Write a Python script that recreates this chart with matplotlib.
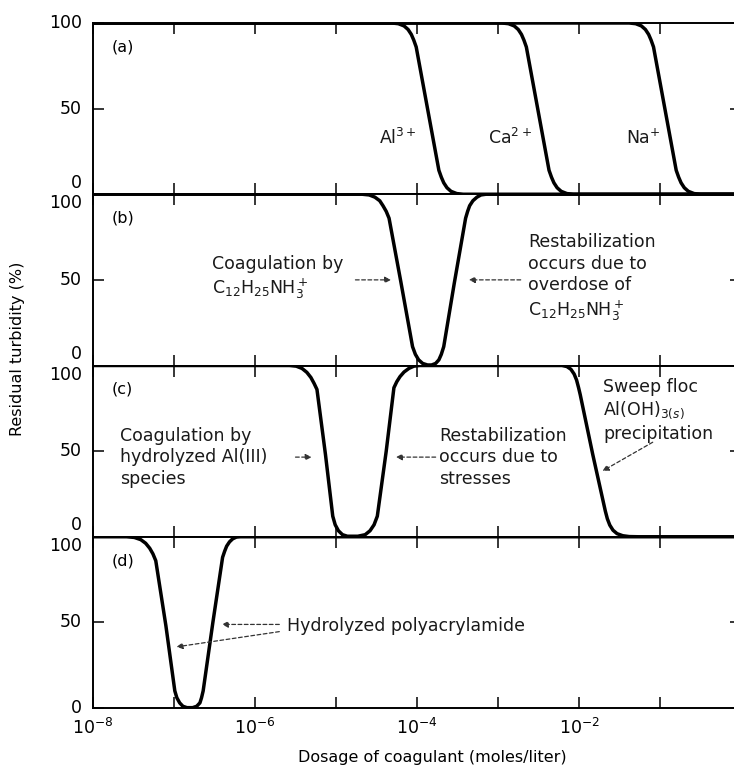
import numpy as np
import matplotlib
matplotlib.use("Agg")
import matplotlib.pyplot as plt

plt.rcParams['font.family'] = ['DejaVu Sans']
plt.rcParams['mathtext.fontset'] = 'dejavusans'

# x values are log10 of dosage (moles/liter), y is residual turbidity (%)
# (a) simple counter-ions
al_logx = [-8, -4.31, -4.23, -4.16, -4.11, -4.07, -4.04, -4.01, -3.87,
           -3.73, -3.70, -3.67, -3.63, -3.58, -3.51, -3.43, 0]
al_y = [100, 100, 99.6, 98.3, 96.2, 93.3, 90, 86, 50,
        14, 10, 6.7, 3.8, 1.7, 0.4, 0, 0]
ca_logx = [-8, -2.95, -2.87, -2.80, -2.75, -2.71, -2.68, -2.65, -2.51,
           -2.37, -2.34, -2.31, -2.27, -2.22, -2.15, -2.07, 0]
ca_y = [100, 100, 99.6, 98.3, 96.2, 93.3, 90, 86, 50,
        14, 10, 6.7, 3.8, 1.7, 0.4, 0, 0]
na_logx = [-8, -1.38, -1.30, -1.23, -1.18, -1.14, -1.11, -1.08, -0.94,
           -0.80, -0.77, -0.74, -0.70, -0.65, -0.58, -0.50, 0]
na_y = [100, 100, 99.6, 98.3, 96.2, 93.3, 90, 86, 50,
        14, 10, 6.7, 3.8, 1.7, 0.4, 0, 0]

# (b) C12H25NH3+
b_logx = [-8, -4.675, -4.59, -4.52, -4.46, -4.42, -4.38, -4.345, -4.20,
          -4.055, -4.02, -3.98, -3.93, -3.87, -3.82, -3.77, -3.73, -3.70, -3.67,
          -3.54, -3.40, -3.375, -3.35, -3.31, -3.26, -3.21, -3.15, 0]
b_y = [100, 100, 99.6, 98.3, 96.2, 93.3, 90, 86, 49,
       11, 6.5, 3.3, 1.2, 0.3, 0.3, 1.2, 3.3, 6.5, 11,
       48, 86, 90, 93.3, 96.2, 98.3, 99.6, 100, 100]

# (c) hydrolyzed Al(III)
c_logx = [-8, -5.574, -5.49, -5.42, -5.36, -5.31, -5.27, -5.235, -5.13,
          -5.04, -5.01, -4.97, -4.92, -4.86, -4.73, -4.64, -4.58, -4.53, -4.49,
          -4.38, -4.285, -4.25, -4.21, -4.16, -4.10, -4.04, -3.97,
          -2.21, -2.15, -2.10, -2.06, -2.03, -2.005, -1.985, -1.83,
          -1.675, -1.65, -1.62, -1.58, -1.53, -1.46, -1.38, -1.27, 0]
c_y = [100, 100, 99.6, 98.3, 96, 93, 89.5, 86, 48,
       12, 7, 3.5, 1.2, 0.3, 0.3, 1.2, 3.5, 7, 12,
       50, 87, 90.5, 93.5, 96.2, 98.3, 99.6, 100,
       100, 99.4, 97.8, 95, 91.5, 87, 83, 48,
       15, 10.5, 6.8, 3.8, 1.8, 0.6, 0.1, 0, 0]

# (d) hydrolyzed polyacrylamide
d_logx = [-8, -7.585, -7.49, -7.41, -7.35, -7.30, -7.26, -7.225, -7.10,
          -6.99, -6.965, -6.93, -6.89, -6.84, -6.77, -6.72, -6.68, -6.66, -6.64,
          -6.52, -6.40, -6.375, -6.35, -6.315, -6.275, -6.23, -6.18, 0]
d_y = [100, 100, 99.6, 98.3, 96.2, 93.3, 90, 86, 48,
       10, 6, 3, 1, 0.2, 0.2, 1, 3, 6, 10,
       50, 88, 91.5, 94.5, 97, 98.8, 99.8, 100, 100]

tick_exp = [-8, -7, -6, -5, -4, -3, -2, -1]
tick_labels = ['$10^{-8}$', '', '$10^{-6}$', '', '$10^{-4}$', '', '$10^{-2}$', '']
panel_names = ['(a)', '(b)', '(c)', '(d)']


def X(v):
    return 10.0 ** np.asarray(v, dtype=float)


W, H = 734, 767
fig = plt.figure(figsize=(W / 100, H / 100), dpi=100)

left_px, right_px = 93, 741
top_px, bot_px = 23, 708
ph = (bot_px - top_px) / 4

axes = []
for i in range(4):
    y_top = top_px + i * ph
    ax = fig.add_axes([left_px / W, 1 - (y_top + ph) / H,
                       (right_px - left_px) / W, ph / H])
    axes.append(ax)

curves = [
    [(al_logx, al_y), (ca_logx, ca_y), (na_logx, na_y)],
    [(b_logx, b_y)],
    [(c_logx, c_y)],
    [(d_logx, d_y)],
]

arrow_kw = dict(arrowstyle='-|>', color='0.2', lw=0.9, ls=(0, (3, 2)),
                mutation_scale=9, shrinkA=0, shrinkB=0)
txt_kw = dict(fontsize=12.5, color='0.1', linespacing=1.25)

for i, ax in enumerate(axes):
    for lx, yy in curves[i]:
        ax.plot(X(lx), yy, color='black', lw=2.5, solid_joinstyle='round',
                solid_capstyle='round')
    ax.set_xscale('log')
    ax.set_xlim(1e-8, 1e0)
    ax.set_ylim(0, 100)
    ax.set_xticks(X(tick_exp))
    ax.minorticks_off()
    ax.set_yticks([0, 50, 100])
    ax.tick_params(axis='both', direction='in', length=8, width=1.1,
                   top=True, right=True, labelleft=False)
    if i < 3:
        ax.tick_params(axis='x', labelbottom=False)
    else:
        ax.set_xticklabels(tick_labels)
        ax.tick_params(axis='x', labelsize=12.5, pad=7)
    for s in ax.spines.values():
        s.set_linewidth(1.4)
    # y tick labels, nudged so they don't collide between panels
    tr = ax.get_yaxis_transform()
    ax.text(-0.017, 50, '50', transform=tr, ha='right', va='center', fontsize=12.5)
    ax.text(-0.017, 100, '100', transform=tr, ha='right',
            va='center' if i == 0 else 'top', fontsize=12.5)
    ax.text(-0.017, 0 if i == 3 else 1.5, '0', transform=tr, ha='right',
            va='center' if i == 3 else 'bottom', fontsize=12.5)
    ax.text(X(-7.77), 86, panel_names[i], fontsize=11.5, va='center', ha='left')

# (a) labels
ax = axes[0]
ax.text(X(-4.24), 33, 'Al$^{3+}$', ha='center', va='center', **txt_kw)
ax.text(X(-2.85), 33, 'Ca$^{2+}$', ha='center', va='center', **txt_kw)
ax.text(X(-1.20), 33, 'Na$^{+}$', ha='center', va='center', **txt_kw)

# (b)
ax = axes[1]
ax.text(X(-6.53), 51, 'Coagulation by\nC$_{12}$H$_{25}$NH$_3^+$', ha='left',
        va='center', **txt_kw)
ax.annotate('', xy=(X(-4.32), 50), xytext=(X(-4.76), 50), arrowprops=arrow_kw)
ax.text(X(-2.63), 51, 'Restabilization\noccurs due to\noverdose of\nC$_{12}$H$_{25}$NH$_3^+$',
        ha='left', va='center', **txt_kw)
ax.annotate('', xy=(X(-3.36), 50), xytext=(X(-2.72), 50), arrowprops=arrow_kw)

# (c)
ax = axes[2]
ax.text(X(-7.67), 46.5, 'Coagulation by\nhydrolyzed Al(III)\nspecies', ha='left',
        va='center', **txt_kw)
ax.annotate('', xy=(X(-5.30), 46.5), xytext=(X(-5.50), 46.5), arrowprops=arrow_kw)
ax.text(X(-3.73), 46.5, 'Restabilization\noccurs due to\nstresses', ha='left',
        va='center', **txt_kw)
ax.annotate('', xy=(X(-4.26), 46.5), xytext=(X(-3.77), 46.5), arrowprops=arrow_kw)
ax.text(X(-1.70), 74, 'Sweep floc\nAl(OH)$_{3(s)}$\nprecipitation', ha='left',
        va='center', **txt_kw)
ax.annotate('', xy=(X(-1.71), 38.4), xytext=(X(-1.09), 55.2), arrowprops=arrow_kw)

# (d)
ax = axes[3]
ax.text(X(-5.61), 47.6, 'Hydrolyzed polyacrylamide', ha='left', va='center', **txt_kw)
ax.annotate('', xy=(X(-6.41), 48.8), xytext=(X(-5.70), 48.8), arrowprops=arrow_kw)
ax.annotate('', xy=(X(-6.97), 35.7), xytext=(X(-5.70), 44.6), arrowprops=arrow_kw)

fig.text(0.024, 0.545, 'Residual turbidity (%)', rotation=90, ha='center',
         va='center', fontsize=11.5)
fig.text(0.589, 0.012, 'Dosage of coagulant (moles/liter)', ha='center',
         va='center', fontsize=11.5)

fig.savefig('out.png', dpi=100)
